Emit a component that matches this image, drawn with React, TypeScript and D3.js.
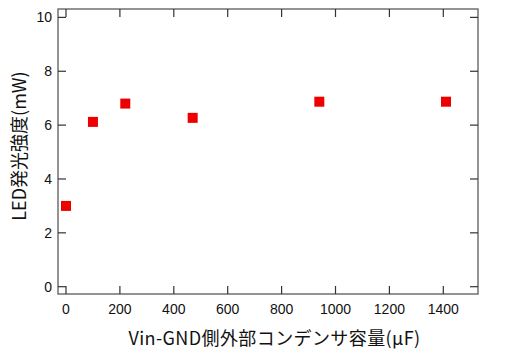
import React from "react";
import * as d3 from "d3";

const capacitance = [0, 100, 220, 470, 940, 1410];
const power = [3.0, 6.12, 6.8, 6.27, 6.87, 6.87];
const xTicks = [0, 200, 400, 600, 800, 1000, 1200, 1400];
const yTicks = [0, 2, 4, 6, 8, 10];
const xTitle = "Vin-GND側外部コンデンサ容量(μF)";
const yTitle = "LED発光強度(mW)";

const W = 511, H = 357;
const left = 58, right = 478, top = 9, bottom = 294;
const FONT = "'Liberation Sans', Arial, 'Noto Sans CJK JP', sans-serif";
const JFONT = "'Noto Sans CJK JP', sans-serif";

export default function App() {
  const x = d3.scaleLinear().domain([0, 1400]).range([66, 443.3]);
  const y = d3.scaleLinear().domain([0, 10]).range([286.7, 17.4]);
  const tl = 8;
  const sq = 10;
  return (
    <svg width={W} height={H} style={{ position: "absolute", left: 0, top: 0 }}>
      <rect x={0} y={0} width={W} height={H} fill="#fff" />
      <rect x={left} y={top} width={right - left} height={bottom - top} fill="none" stroke="#707070" strokeWidth={1.5} />
      {xTicks.map((t) => (
        <g key={"x" + t}>
          <line x1={x(t)} x2={x(t)} y1={bottom} y2={bottom - tl} stroke="#333" strokeWidth={1.2} />
          <line x1={x(t)} x2={x(t)} y1={top} y2={top + tl} stroke="#333" strokeWidth={1.2} />
          <text x={x(t)} y={314} textAnchor="middle" fontSize={14} fontFamily={FONT} fill="#111">{t}</text>
        </g>
      ))}
      {yTicks.map((t) => (
        <g key={"y" + t}>
          <line x1={left} x2={left + tl} y1={y(t)} y2={y(t)} stroke="#333" strokeWidth={1.2} />
          <line x1={right} x2={right - tl} y1={y(t)} y2={y(t)} stroke="#333" strokeWidth={1.2} />
          <text x={52} y={y(t) + 5} textAnchor="end" fontSize={14} fontFamily={FONT} fill="#111">{t}</text>
        </g>
      ))}
      {capacitance.map((c, i) => (
        <rect key={"p" + i} x={x(c) - sq / 2} y={y(power[i]) - sq / 2} width={sq} height={sq} fill="#ee0000" />
      ))}
      <text x={274.5} y={345} textAnchor="middle" fontSize={18} letterSpacing={0.4} fontFamily={JFONT} fill="#111">{xTitle}</text>
      <text transform="translate(26,146) rotate(-90)" textAnchor="middle" fontSize={18} fontFamily={JFONT} fill="#111">{yTitle}</text>
    </svg>
  );
}
